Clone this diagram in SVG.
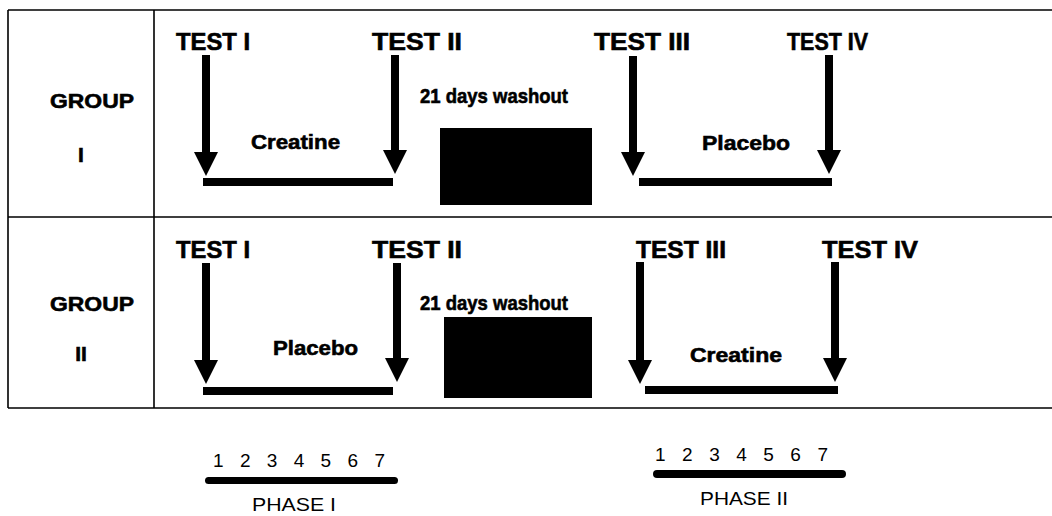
<svg xmlns="http://www.w3.org/2000/svg" width="1052" height="516" viewBox="0 0 1052 516">
<style>
.grid{stroke:#000;stroke-width:1.6;fill:none}
.lbl{font-family:"Liberation Sans",Arial,sans-serif;font-weight:bold;fill:#000;stroke:#000;stroke-width:0.6}
.test{font-size:23px}
.med{font-size:21px}
.grp{font-size:21px}
.num{font-family:"Liberation Sans",Arial,sans-serif;font-size:19px;fill:#000}
.ph{font-family:"Liberation Sans",Arial,sans-serif;font-size:18px;fill:#000}
.shaft{stroke:#000;stroke-width:8;fill:none;marker-end:url(#ah)}
.bar{fill:#000}
</style>
<defs>
<marker id="ah" markerUnits="userSpaceOnUse" markerWidth="26" markerHeight="26" viewBox="0 -13 26 26" refX="0" refY="0" orient="auto" overflow="visible">
<path d="M0,-12 L24,0 L0,12 Z" fill="#000"/>
</marker>
</defs>
<rect width="1052" height="516" fill="#fff"/>
<g id="table">
<path class="grid" d="M8,10 H1052 M8,217 H1052 M8,408 H1052 M8,10 V408 M154,10 V408"/>
</g>
<g id="group1">
<text class="lbl grp" x="92" y="108" text-anchor="middle" textLength="84" lengthAdjust="spacingAndGlyphs">GROUP</text>
<text class="lbl grp" x="81" y="162" text-anchor="middle">I</text>
</g>
<g id="group2">
<text class="lbl grp" x="92" y="311" text-anchor="middle" textLength="84" lengthAdjust="spacingAndGlyphs">GROUP</text>
<text class="lbl grp" x="81" y="361" text-anchor="middle">II</text>
</g>
<g id="g1-tests">
<text class="lbl test" x="176" y="50" textLength="74" lengthAdjust="spacingAndGlyphs">TEST I</text>
<text class="lbl test" x="372" y="50" textLength="90" lengthAdjust="spacingAndGlyphs">TEST II</text>
<text class="lbl test" x="594" y="50" textLength="96" lengthAdjust="spacingAndGlyphs">TEST III</text>
<text class="lbl test" x="787" y="50" textLength="81" lengthAdjust="spacingAndGlyphs">TEST IV</text>
</g>
<g id="g1-creatine"><text class="lbl med" x="251" y="149" textLength="89" lengthAdjust="spacingAndGlyphs">Creatine</text></g>
<g id="g1-placebo"><text class="lbl med" x="702" y="150" textLength="88" lengthAdjust="spacingAndGlyphs">Placebo</text></g>
<g id="g1-washout">
<text class="lbl med" x="420" y="103" textLength="148" lengthAdjust="spacingAndGlyphs">21 days washout</text>
<rect x="440" y="128" width="152" height="77" fill="#000"/>
</g>
<g id="g2-tests">
<text class="lbl test" x="176" y="258" textLength="74" lengthAdjust="spacingAndGlyphs">TEST I</text>
<text class="lbl test" x="372" y="258" textLength="90" lengthAdjust="spacingAndGlyphs">TEST II</text>
<text class="lbl test" x="636" y="258" textLength="90" lengthAdjust="spacingAndGlyphs">TEST III</text>
<text class="lbl test" x="822" y="258" textLength="96" lengthAdjust="spacingAndGlyphs">TEST IV</text>
</g>
<g id="g2-placebo"><text class="lbl med" x="273" y="355" textLength="85" lengthAdjust="spacingAndGlyphs">Placebo</text></g>
<g id="g2-creatine"><text class="lbl med" x="690" y="362" textLength="92" lengthAdjust="spacingAndGlyphs">Creatine</text></g>
<g id="g2-washout">
<text class="lbl med" x="420" y="310" textLength="148" lengthAdjust="spacingAndGlyphs">21 days washout</text>
<rect x="444" y="317" width="148" height="81" fill="#000"/>
</g>
<g id="connectors">
<line class="shaft" x1="206" y1="55" x2="206" y2="152"/>
<line class="shaft" x1="395" y1="55" x2="395" y2="150"/>
<line class="shaft" x1="633" y1="56" x2="633" y2="152"/>
<line class="shaft" x1="829" y1="55" x2="829" y2="150"/>
<rect class="bar" x="203" y="178" width="190" height="8"/>
<rect class="bar" x="639" y="178" width="193" height="8"/>
<line class="shaft" x1="206" y1="263" x2="206" y2="360"/>
<line class="shaft" x1="397" y1="263" x2="397" y2="358"/>
<line class="shaft" x1="640" y1="262" x2="640" y2="360"/>
<line class="shaft" x1="835" y1="262" x2="835" y2="358"/>
<rect class="bar" x="203" y="387" width="190" height="8"/>
<rect class="bar" x="645" y="386" width="193" height="8"/>
</g>
<g id="phase1">
<text class="num" x="213" y="467" textLength="172" lengthAdjust="spacing">1 2 3 4 5 6 7</text>
<rect class="bar" x="205" y="477" width="193" height="7" rx="3.5"/>
<text class="ph" x="252" y="511" textLength="84" lengthAdjust="spacingAndGlyphs">PHASE I</text>
</g>
<g id="phase2">
<text class="num" x="655" y="461" textLength="173" lengthAdjust="spacing">1 2 3 4 5 6 7</text>
<rect class="bar" x="653" y="470" width="193" height="8" rx="4"/>
<text class="ph" x="700" y="505" textLength="88" lengthAdjust="spacingAndGlyphs">PHASE II</text>
</g>
</svg>
